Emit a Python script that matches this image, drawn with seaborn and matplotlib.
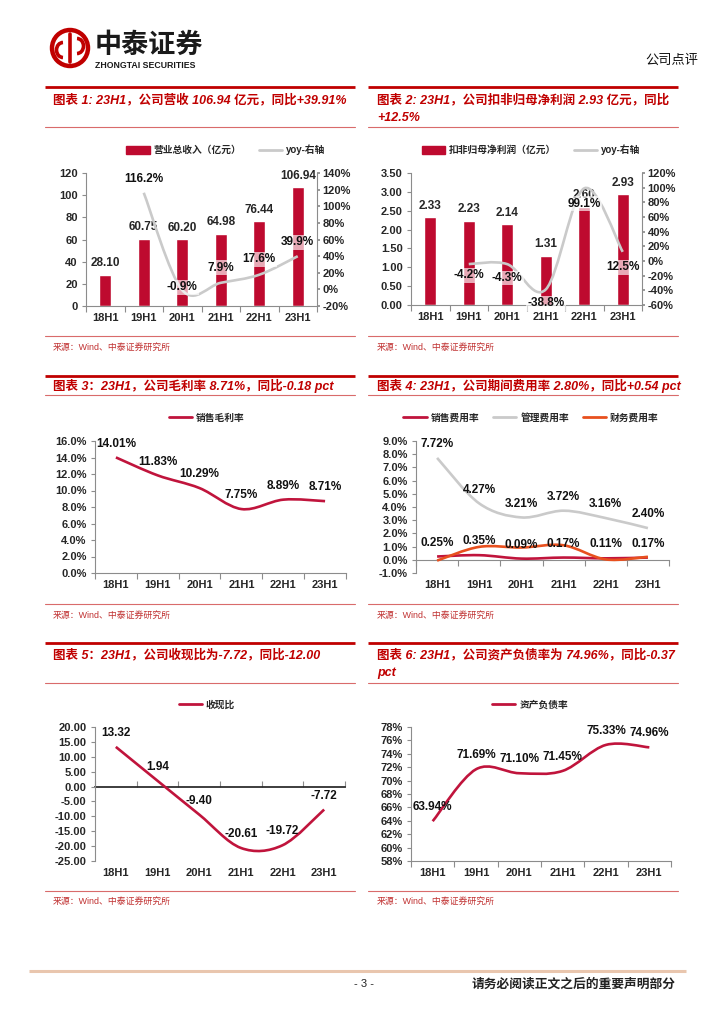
import numpy as np
import pandas as pd
import matplotlib
matplotlib.use("Agg")
import matplotlib.pyplot as plt
import seaborn as sns
from matplotlib.path import Path
from matplotlib.patches import PathPatch, Patch, Circle, Arc
from matplotlib.lines import Line2D

# ---- data ----
periods = ["18H1", "19H1", "20H1", "21H1", "22H1", "23H1"]

revenue = [28.10, 60.75, 60.20, 64.98, 76.44, 106.94]          # 营业总收入（亿元）
revenue_yoy = [None, 116.2, -0.9, 7.9, 17.6, 39.9]             # %

profit = [2.33, 2.23, 2.14, 1.31, 2.60, 2.93]                  # 扣非归母净利润（亿元）
profit_yoy = [None, -4.2, -4.3, -38.8, 99.1, 12.5]             # %

gross_margin = [14.01, 11.83, 10.29, 7.75, 8.89, 8.71]         # 销售毛利率 %

sell_rate = [0.25, 0.35, 0.09, 0.17, 0.11, 0.17]               # 销售费用率 %
admin_rate = [7.72, 4.27, 3.21, 3.72, 3.16, 2.40]              # 管理费用率 %
fin_rate = [-0.06, 0.98, 0.93, 1.10, 0.03, 0.23]               # 财务费用率 % (no labels, estimated)

cash_ratio = [13.32, 1.94, -9.40, -20.61, -19.72, -7.72]       # 收现比
debt_ratio = [63.94, 71.69, 71.10, 71.45, 75.33, 74.96]        # 资产负债率 %

W, H = 724, 1024
RED = "#C00000"
BAR = "#BE0A2F"
CRIMSON = "#C0143C"
GREY_LINE = "#CACACA"
ORANGE = "#E8501E"
SPINE = "#8C8C8C"

sns.set_theme(style="white")
plt.rcParams["font.family"] = ["Liberation Sans", "Noto Sans CJK SC", "DejaVu Sans"]
plt.rcParams["axes.unicode_minus"] = False

fig = plt.figure(figsize=(W / 100, H / 100), dpi=100)
fig.patch.set_facecolor("white")

# page overlay in pixel coordinates (decoration only)
page = fig.add_axes([0, 0, 1, 1], zorder=-5)
page.set_xlim(0, W)
page.set_ylim(H, 0)
page.axis("off")


def px_axes(left, top, right, bottom):
    ax = fig.add_axes([left / W, 1 - bottom / H, (right - left) / W, (bottom - top) / H])
    ax.set_facecolor("none")
    return ax


def smooth_path(ys):
    # Excel-style smoothed line: cubic bezier through the data points
    pts = [(i, v) for i, v in enumerate(ys) if v is not None]
    p = np.array(pts, dtype=float)
    n = len(p)
    verts = [tuple(p[0])]
    codes = [Path.MOVETO]
    for i in range(n - 1):
        p0 = p[i - 1] if i > 0 else p[i]
        p1, p2 = p[i], p[i + 1]
        p3 = p[i + 2] if i + 2 < n else p[i + 1]
        c1 = p1 + (p2 - p0) / 6.0
        c2 = p2 - (p3 - p1) / 6.0
        verts += [tuple(c1), tuple(c2), tuple(p2)]
        codes += [Path.CURVE4] * 3
    return Path(verts, codes)


def draw_line(ax, ys, color, lw=1.9, z=3):
    patch = PathPatch(smooth_path(ys), facecolor="none", edgecolor=color, lw=lw,
                      capstyle="butt", joinstyle="round", zorder=z)
    ax.add_patch(patch)


def label_points(ax, ys, fmt, offsets, box=False):
    for i, v in enumerate(ys):
        if v is None:
            continue
        off = offsets[i] if isinstance(offsets, list) else offsets
        kw = {}
        if box:
            kw["bbox"] = dict(boxstyle="square,pad=0.12", fc="white", ec="none", alpha=0.65)
        ax.annotate(fmt.format(v), (i, v), xytext=(0, off), textcoords="offset points",
                    ha="center", va="center", fontsize=8.5, fontweight="bold",
                    color="#111111", zorder=6, **kw)


def style_axes(ax, zero_axis=False):
    for s in ["top", "right"]:
        ax.spines[s].set_visible(False)
    for s in ["left", "bottom"]:
        ax.spines[s].set_color(SPINE)
        ax.spines[s].set_linewidth(0.8)
    ax.set_xlim(-0.5, 5.5)
    ax.set_xticks(range(6), periods)
    ax.set_xlabel("")
    ax.set_ylabel("")
    ax.tick_params(axis="x", which="major", length=0, pad=5, labelsize=8)
    ax.tick_params(axis="y", which="major", length=3, width=0.8, color=SPINE,
                   direction="out", pad=3, labelsize=8, left=True)
    for t in ax.get_xticklabels() + ax.get_yticklabels():
        t.set_fontweight("bold")
    if zero_axis:
        ax.spines["bottom"].set_visible(False)
        y0, y1 = ax.get_ylim()
        sec = ax.secondary_xaxis((0 - y0) / (y1 - y0))
        sec.set_xticks(np.arange(-0.5, 6, 1))
        sec.set_xticklabels([])
        sec.tick_params(length=4, width=0.8, color=SPINE, direction="out")
        sec.spines["bottom"].set_color(SPINE)
        sec.spines["bottom"].set_linewidth(0.8)
    else:
        ax.set_xticks(np.arange(-0.5, 6, 1), minor=True)
        ax.tick_params(axis="x", which="minor", length=4, width=0.8, color=SPINE,
                       direction="out", bottom=True)


def fig_legend(handles, labels, cx, cy, ncol, colsp=1.8):
    leg = fig.legend(handles, labels, loc="center", bbox_to_anchor=(cx / W, 1 - cy / H),
                     ncol=ncol, frameon=False, handlelength=2.4, handleheight=0.8,
                     handletextpad=0.4, columnspacing=colsp,
                     prop={"size": 7, "weight": "bold"})
    return leg


# ---------------- header ----------------
page.add_patch(Circle((70, 48), 18, fill=False, ec=RED, lw=3.2))
page.add_patch(Arc((63, 50), 13, 15, theta1=90, theta2=270, ec=RED, lw=2.6))
page.add_patch(Arc((77, 46), 13, 15, theta1=-90, theta2=90, ec=RED, lw=2.6))
page.plot([70, 70], [34, 62], color=RED, lw=2.6)
page.text(95, 45, "中泰证券", fontsize=19.5, fontweight="bold", color="#1a1a1a",
          ha="left", va="center", family=["Noto Sans CJK SC"])
page.text(95, 65, "ZHONGTAI SECURITIES", fontsize=6.3, fontweight="bold", color="#1a1a1a",
          ha="left", va="center")
page.text(698, 60, "公司点评", fontsize=9.5, color="#111111", ha="right", va="center",
          family=["Noto Sans CJK SC"])

# ---------------- section frames ----------------
rows = [(87, 127, 336, 347), (376, 395, 604, 615), (643, 683, 891, 901)]
for top, sub, src, src_t in rows:
    for x0, x1, tx in [(45, 355, 53), (368, 678, 377)]:
        page.plot([x0, x1], [top, top], color=RED, lw=2.0, solid_capstyle="butt")
        page.plot([x0, x1], [sub, sub], color="#D96B6B", lw=0.8)
        page.plot([x0, x1], [src, src], color="#D96B6B", lw=0.8)
        page.text(tx, src_t, "来源：Wind、中泰证券研究所", fontsize=6.4, color="#C03030",
                  ha="left", va="center")

title_kw = dict(fontsize=9.0, fontweight="bold", style="italic", color=RED,
                ha="left", va="center")
page.text(53, 100, "图表 1: 23H1，公司营收 106.94 亿元，同比+39.91%", **title_kw)
page.text(377, 100, "图表 2: 23H1，公司扣非归母净利润 2.93 亿元，同比", **title_kw)
page.text(377, 118, "+12.5%", **title_kw)
page.text(53, 386, "图表 3：23H1，公司毛利率 8.71%，同比-0.18 pct", **title_kw)
page.text(377, 386, "图表 4: 23H1，公司期间费用率 2.80%，同比+0.54 pct", **title_kw)
page.text(53, 655, "图表 5：23H1，公司收现比为-7.72，同比-12.00", **title_kw)
page.text(377, 655, "图表 6: 23H1，公司资产负债率为 74.96%，同比-0.37", **title_kw)
page.text(377, 673, "pct", **title_kw)

# ---------------- chart 1 ----------------
ax1 = px_axes(86, 173, 317, 306)
sns.barplot(x=periods, y=revenue, color=BAR, saturation=1, width=0.32, ax=ax1, zorder=2)
ax1.set_ylim(0, 120)
ax1.set_yticks(range(0, 121, 20))
ax1.bar_label(ax1.containers[0], fmt="%.2f", padding=4, fontsize=8.5, fontweight="bold")
style_axes(ax1)
ax1b = ax1.twinx()
ax1b.set_ylim(-20, 140)
ax1b.set_yticks(range(-20, 141, 20))
ax1b.set_yticklabels([f"{t}%" for t in range(-20, 141, 20)])
for s in ["top", "left", "bottom"]:
    ax1b.spines[s].set_visible(False)
ax1b.spines["right"].set_color(SPINE)
ax1b.spines["right"].set_linewidth(0.8)
ax1b.tick_params(axis="y", length=2, color=SPINE, pad=2, labelsize=8, right=True)
for t in ax1b.get_yticklabels():
    t.set_fontweight("bold")
ax1b.grid(False)
draw_line(ax1b, revenue_yoy, GREY_LINE)
label_points(ax1b, revenue_yoy, "{:.1f}%", [0, 10, 2, 11, 11, 10], box=True)
fig_legend([Patch(color=BAR), Line2D([], [], color=GREY_LINE, lw=2)],
           ["营业总收入（亿元）", "yoy-右轴"], 226, 150, 2)

# ---------------- chart 2 ----------------
ax2 = px_axes(411, 173, 642, 305)
sns.barplot(x=periods, y=profit, color=BAR, saturation=1, width=0.32, ax=ax2, zorder=2)
ax2.set_ylim(0, 3.5)
ax2.set_yticks(np.arange(0, 3.51, 0.5))
ax2.set_yticklabels([f"{t:.2f}" for t in np.arange(0, 3.51, 0.5)])
ax2.bar_label(ax2.containers[0], fmt="%.2f", padding=4, fontsize=8.5, fontweight="bold")
style_axes(ax2)
ax2b = ax2.twinx()
ax2b.set_ylim(-60, 120)
ax2b.set_yticks(range(-60, 121, 20))
ax2b.set_yticklabels([f"{t}%" for t in range(-60, 121, 20)])
for s in ["top", "left", "bottom"]:
    ax2b.spines[s].set_visible(False)
ax2b.spines["right"].set_color(SPINE)
ax2b.spines["right"].set_linewidth(0.8)
ax2b.tick_params(axis="y", length=2, color=SPINE, pad=2, labelsize=8, right=True)
for t in ax2b.get_yticklabels():
    t.set_fontweight("bold")
ax2b.grid(False)
draw_line(ax2b, profit_yoy, GREY_LINE)
label_points(ax2b, profit_yoy, "{:.1f}%", [0, -8, -10, -10, -11, -11], box=True)
fig_legend([Patch(color=BAR), Line2D([], [], color=GREY_LINE, lw=2)],
           ["扣非归母净利润（亿元）", "yoy-右轴"], 531, 150, 2)

# ---------------- chart 3 ----------------
ax3 = px_axes(95, 441, 346, 573)
ax3.set_ylim(0, 16)
ax3.set_yticks(range(0, 17, 2))
ax3.set_yticklabels([f"{t:.1f}%" for t in range(0, 17, 2)])
style_axes(ax3)
draw_line(ax3, gross_margin, CRIMSON)
label_points(ax3, gross_margin, "{:.2f}%", 10)
fig_legend([Line2D([], [], color=CRIMSON, lw=2)], ["销售毛利率"], 207, 418, 1)

# ---------------- chart 4 ----------------
ax4 = px_axes(416, 441, 669, 573)
ax4.set_ylim(-1, 9)
ax4.set_yticks(range(-1, 10))
ax4.set_yticklabels([f"{t:.1f}%" for t in range(-1, 10)])
style_axes(ax4, zero_axis=True)
draw_line(ax4, sell_rate, CRIMSON, z=3)
draw_line(ax4, admin_rate, GREY_LINE, z=3)
draw_line(ax4, fin_rate, ORANGE, z=4)
label_points(ax4, admin_rate, "{:.2f}%", 10)
label_points(ax4, sell_rate, "{:.2f}%", 10)
fig_legend([Line2D([], [], color=CRIMSON, lw=2), Line2D([], [], color=GREY_LINE, lw=2),
            Line2D([], [], color=ORANGE, lw=2)],
           ["销售费用率", "管理费用率", "财务费用率"], 531, 418, 3, colsp=1.4)

# ---------------- chart 5 ----------------
ax5 = px_axes(95, 727, 345, 861)
ax5.set_ylim(-25, 20)
ax5.set_yticks(range(-25, 21, 5))
ax5.set_yticklabels([f"{t:.2f}" for t in range(-25, 21, 5)])
style_axes(ax5, zero_axis=True)
draw_line(ax5, cash_ratio, CRIMSON)
label_points(ax5, cash_ratio, "{:.2f}", 10)
fig_legend([Line2D([], [], color=CRIMSON, lw=2)], ["收现比"], 207, 705, 1)

# ---------------- chart 6 ----------------
ax6 = px_axes(411, 727, 671, 861)
ax6.set_ylim(58, 78)
ax6.set_yticks(range(58, 79, 2))
ax6.set_yticklabels([f"{t}%" for t in range(58, 79, 2)])
style_axes(ax6)
draw_line(ax6, debt_ratio, CRIMSON)
label_points(ax6, debt_ratio, "{:.2f}%", 10)
fig_legend([Line2D([], [], color=CRIMSON, lw=2)], ["资产负债率"], 530, 705, 1)

# ---------------- footer ----------------
page.plot([29, 686], [971, 971], color="#E9C6AE", lw=2.2, solid_capstyle="butt")
page.text(364, 984, "- 3 -", fontsize=8, color="#222222", ha="center", va="center")
page.text(676, 984, "请务必阅读正文之后的重要声明部分", fontsize=9.2, fontweight="bold",
          color="#222222", ha="right", va="center")

fig.savefig("out.png", dpi=100, facecolor="white")
